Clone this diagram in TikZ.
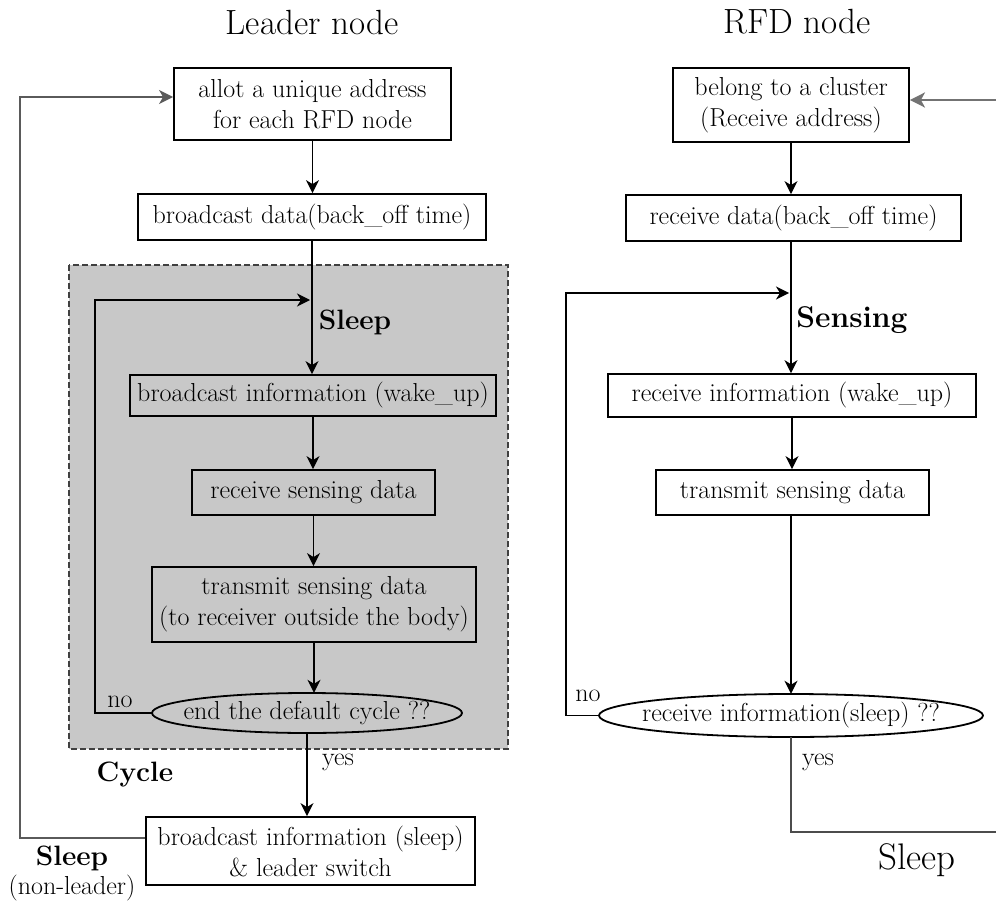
\documentclass[tikz,border=0pt]{standalone}
\usepackage{fontspec}
\usetikzlibrary{arrows.meta}
\definecolor{cyc}{RGB}{200,200,200}
\definecolor{loopgray}{RGB}{90,90,90}
\begin{document}
\begin{tikzpicture}[x=1pt,y=-1pt,
  box/.style={draw=black, line width=1.8pt, align=center, inner sep=0pt, fill=white,
              font=\fontsize{26}{31}\selectfont},
  dec/.style={align=center, inner sep=0pt, font=\fontsize{26}{31}\selectfont},
  conn/.style={line width=1.4pt, -{Stealth[length=13pt,width=13pt,inset=4pt]}},
  title/.style={font=\fontsize{35}{40}\selectfont},
  phase/.style={font=\fontsize{28}{32}\selectfont\bfseries},
  lab/.style={font=\fontsize{26}{30}\selectfont, inner sep=0pt}
]
\useasboundingbox (0,0) rectangle (996,904);

% cycle region
\draw[fill=cyc, draw=black!75, line width=1.4pt, dash pattern=on 6pt off 3pt] (69,265) rectangle (508,749);

% titles
\node[title] (t1) at (312,22) {Leader node};
\node[title] (t2) at (797,22) {RFD node};

% leader column
\node[box, minimum width=277pt, minimum height=72pt] (A) at (312.5,104) {allot a unique address\\for each RFD node};
\node[box, minimum width=348pt, minimum height=46pt] (B) at (312,217) {broadcast data(back\_off time)};
\node[box, fill=cyc, minimum width=366pt, minimum height=41pt] (C) at (313,395.5) {broadcast information (wake\_up)};
\node[box, fill=cyc, minimum width=243pt, minimum height=45pt] (D) at (313.5,492.5) {receive sensing data};
\node[box, fill=cyc, minimum width=324pt, minimum height=75pt] (E) at (314,604.5) {transmit sensing data\\(to receiver outside the body)};
\node[dec, minimum width=310pt, minimum height=40pt] (F) at (307,713) {};
\draw[line width=1.8pt, fill=cyc] (F.center) ellipse [x radius=155pt, y radius=20pt];
\node[dec] (Ft) at (F.center) {end the default cycle ??};
\node[box, minimum width=329pt, minimum height=68pt] (G) at (310.5,851) {broadcast information (sleep)\\\& leader switch};

% RFD column
\node[box, minimum width=236pt, minimum height=74pt] (H) at (791,105) {belong to a cluster\\(Receive address)};
\node[box, minimum width=335pt, minimum height=46pt] (I) at (793.5,218) {receive data(back\_off time)};
\node[box, minimum width=368pt, minimum height=43pt] (J) at (792,395.5) {receive information (wake\_up)};
\node[box, minimum width=273pt, minimum height=45pt] (K) at (792.5,492.5) {transmit sensing data};
\node[dec, minimum width=384pt, minimum height=43pt] (L) at (791,715.5) {};
\draw[line width=1.8pt, fill=white] (L.center) ellipse [x radius=192pt, y radius=21.5pt];
\node[dec] (Lt) at (L.center) {receive information(sleep) ??};

% leader connectors
\draw[conn] (A.south) -- (A.south |- B.north);
\draw[conn] (B.south) -- (B.south |- C.north);
\draw[conn] (C.south) -- (C.south |- D.north);
\draw[conn] (D.south) -- (D.south |- E.north);
\draw[conn] (E.south) -- (E.south |- F.north);
\draw[conn] (F.south) -- (F.south |- G.north);
\coordinate (j1) at (310,300);
\coordinate (nl) at (95,300);
\draw[conn] (F.west) -| (nl) -- (j1);
\coordinate (o1) at (20,838);
\coordinate (o2) at (20,97);
\draw[line width=2.2pt, draw=loopgray, -{Stealth[length=14pt,width=14pt,inset=4pt]}]
  ([yshift=13pt]G.west) -- (o1) -- (o2) -- ([yshift=7pt]A.west);

% RFD connectors
\coordinate (re) at (996,100);
\draw[line width=2.6pt, draw=black!55, -{Stealth[length=15pt,width=15pt,inset=4pt]}]
  (re) -- ([yshift=5pt]H.east);
\draw[conn] (H.south) -- (H.south |- I.north);
\draw[conn] (I.south -| H.south) -- (H.south |- J.north);
\draw[conn] (J.south) -- (J.south |- K.north);
\draw[conn] (K.south -| L.north) -- (L.north);
\coordinate (j2) at (789,293);
\coordinate (nr) at (566,293);
\draw[conn] (L.west) -| (nr) -- (j2);
\coordinate (y2) at (996,832);
\draw[line width=1.8pt, draw=black!70] (L.south) -- (L.south |- y2) -- (y2);

% labels
\node[phase] (s1) at (355,322) {Sleep};
\node[phase] (cy) at (135,775) {Cycle};
\node[phase] (s2) at (72,858) {Sleep};
\node[lab] (nonl) at (72,888) {(non-leader)};
\node[lab] (no1) at (120,702) {no};
\node[lab] (ye1) at (338,762) {yes};
\node[phase, font=\fontsize{30}{34}\selectfont\bfseries] (sen) at (852,320) {Sensing};
\node[lab] (no2) at (588,696) {no};
\node[lab] (ye2) at (818,762) {yes};
\node[font=\fontsize{37}{42}\selectfont] (s3) at (917,860) {Sleep};
\end{tikzpicture}
\end{document}
